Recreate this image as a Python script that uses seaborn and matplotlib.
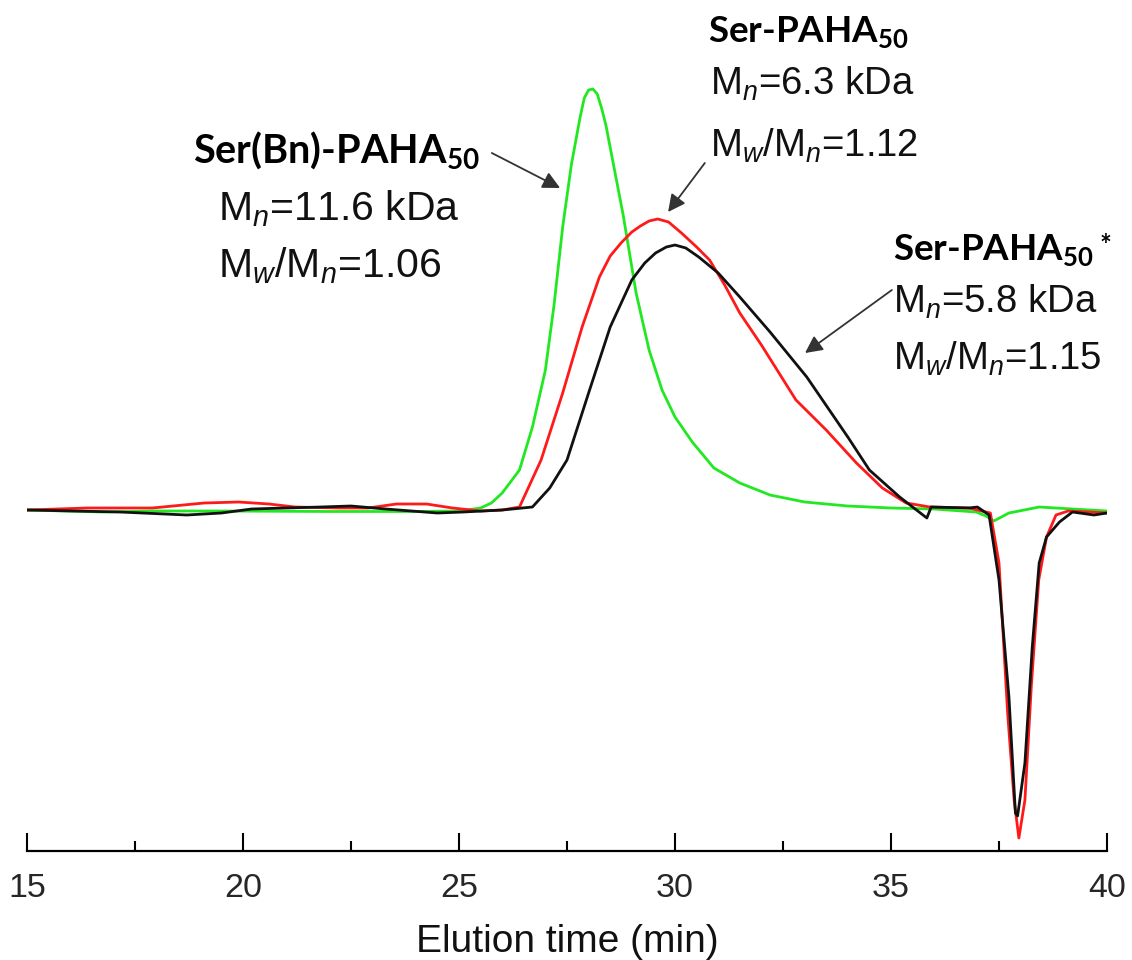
import numpy as np
import pandas as pd
import matplotlib
matplotlib.use("Agg")
import matplotlib.pyplot as plt
import seaborn as sns

# GPC traces (x = elution time in min, signal in arbitrary units)
x_green = [15.0, 16.75, 18.0, 19.5, 22.0, 24.0, 25.0, 25.5, 25.75, 26.0, 26.4, 26.7, 27.0, 27.2,
           27.4, 27.6, 27.8, 27.9, 28.0, 28.1, 28.2, 28.3, 28.4, 28.6, 28.8, 29.1, 29.4, 29.7, 30.0,
           30.4, 30.9, 31.5, 32.2, 33.0, 34.0, 35.0, 36.0, 36.97, 37.2, 37.38, 37.73, 38.43, 39.2, 40.0]
s_green = [0, -2, -1, -1, -1.5, -1.5, -1, 2, 7, 17, 40, 83, 140, 205,
           283, 345, 392, 412, 420, 421, 416, 402, 385, 340, 295, 217, 160, 120, 93,
           68, 42, 27, 15, 8, 4, 2, 1, -2, -6, -11, -3, 3, 1, -1]

x_red = [15.0, 16.4, 17.9, 19.1, 19.9, 20.6, 21.2, 22.2, 22.9, 23.55, 24.25, 24.85, 25.5, 26.0,
         26.4, 26.9, 27.4, 27.85, 28.25, 28.5, 28.75, 29.0, 29.2, 29.4, 29.6, 29.85, 30.15, 30.5,
         30.8, 31.15, 31.5, 32.0, 32.8, 33.5, 34.2, 34.8, 35.35, 35.9, 36.8, 37.3, 37.5, 37.7,
         37.85, 37.96, 38.1, 38.25, 38.42, 38.6, 38.82, 39.1, 39.6, 40.0]
s_red = [0, 2, 2, 7, 8, 6, 3, 2, 2, 6, 6, 2, -1, 0,
         3, 50, 117, 183, 233, 254, 267, 278, 284, 289, 291, 288, 277, 263,
         250, 225, 197, 165, 110, 80, 47, 22, 7, 3, 2, -3, -53, -203,
         -290, -328, -290, -175, -70, -27, -5, -1, -2, -3]

x_black = [15.0, 17.15, 18.7, 19.5, 20.2, 21.8, 22.5, 23.3, 24.5, 25.1, 26.0, 26.7, 27.1, 27.5,
           28.0, 28.5, 29.0, 29.3, 29.55, 29.8, 30.0, 30.25, 30.55, 31.0, 31.5, 32.2, 33.05, 34.0,
           34.5, 35.2, 35.83, 35.93, 36.8, 37.0, 37.27, 37.5, 37.73, 37.88, 37.93, 38.1, 38.27,
           38.43, 38.6, 38.9, 39.2, 39.7, 40.0]
s_black = [0, -2, -5, -3, 1, 3, 4, 1, -3, -2, 0, 3, 22, 50,
           117, 183, 230, 247, 257, 263, 265, 262, 253, 237, 213, 178, 133, 73,
           40, 13, -8, 3, 2, 3, -5, -70, -187, -303, -306, -253, -137,
           -53, -27, -12, -2, -5, -3]

major_ticks = [15, 20, 25, 30, 35, 40]
minor_ticks = [17.5, 22.5, 27.5, 32.5, 37.5]

sns.set_theme(style="white")
plt.rcParams["font.family"] = ["Liberation Sans", "DejaVu Sans"]
plt.rcParams["mathtext.fontset"] = "custom"
plt.rcParams["mathtext.rm"] = "Liberation Sans"
plt.rcParams["mathtext.it"] = "Liberation Sans:italic"
plt.rcParams["mathtext.bf"] = "Lato:bold"

fig = plt.figure(figsize=(11.32, 9.6), dpi=100)
ax = fig.add_axes([27 / 1132, 1 - 851 / 960, 1080 / 1132, 851 / 960])

traces = [(x_green, s_green, "#22e822"), (x_red, s_red, "#ff1a1a"), (x_black, s_black, "#111111")]
for xs, ys, col in traces:
    sns.lineplot(x=xs, y=ys, color=col, lw=2.0, ax=ax, sort=False, estimator=None)

ax.set_xlim(15, 40)
ax.set_ylim(-341, 510)
for side in ["left", "right", "top"]:
    ax.spines[side].set_visible(False)
ax.spines["bottom"].set_color("black")
ax.spines["bottom"].set_linewidth(1.6)
ax.set_yticks([])
ax.set_xticks(major_ticks)
ax.set_xticks(minor_ticks, minor=True)
ax.tick_params(axis="x", which="major", direction="in", length=13, width=1.5,
               color="black", labelsize=24.5, pad=16, bottom=True)
ax.tick_params(axis="x", which="minor", direction="in", length=7, width=1.5,
               color="black", bottom=True)
ax.set_xlabel("Elution time (min)", fontsize=28, labelpad=14, color="#111111")

bold = dict(family="Lato", weight="bold", color="black", va="baseline", ha="left")
norm = dict(family="Liberation Sans", color="#111111", va="baseline", ha="left")

# Ser(Bn)-PAHA50 label
ax.text(18.84, 347, r"Ser(Bn)-PAHA$_{\mathbf{50}}$", fontsize=28.5, **bold)
ax.text(19.42, 290, r"M$_{n}$=11.6 kDa", fontsize=29.5, **norm)
ax.text(19.42, 233, r"M$_{w}$/M$_{n}$=1.06", fontsize=29.5, **norm)

# Ser-PAHA50 label
ax.text(30.76, 468, r"Ser-PAHA$_{\mathbf{50}}$", fontsize=26.5, **bold)
ax.text(30.81, 415, r"M$_{n}$=6.3 kDa", fontsize=27.5, **norm)
ax.text(30.81, 353, r"M$_{w}$/M$_{n}$=1.12", fontsize=27.5, **norm)

# Ser-PAHA50* label
ax.text(35.05, 250, r"Ser-PAHA$_{\mathbf{50}}$", fontsize=26.5, **bold)
ax.text(39.83, 264, "*", fontsize=20, family="Lato", weight="bold", color="black",
        va="center", ha="left")
ax.text(35.05, 197, r"M$_{n}$=5.8 kDa", fontsize=27.5, **norm)
ax.text(35.05, 140, r"M$_{w}$/M$_{n}$=1.15", fontsize=27.5, **norm)

arrow = dict(arrowstyle="-|>", color="#333333", lw=1.3, mutation_scale=26, shrinkA=0, shrinkB=0)
ax.annotate("", xy=(27.34, 322), xytext=(25.76, 357), arrowprops=arrow)
ax.annotate("", xy=(29.84, 298), xytext=(30.69, 347), arrowprops=arrow)
ax.annotate("", xy=(33.01, 157), xytext=(35.02, 220), arrowprops=arrow)

fig.savefig("out.png", dpi=100, facecolor="white")
